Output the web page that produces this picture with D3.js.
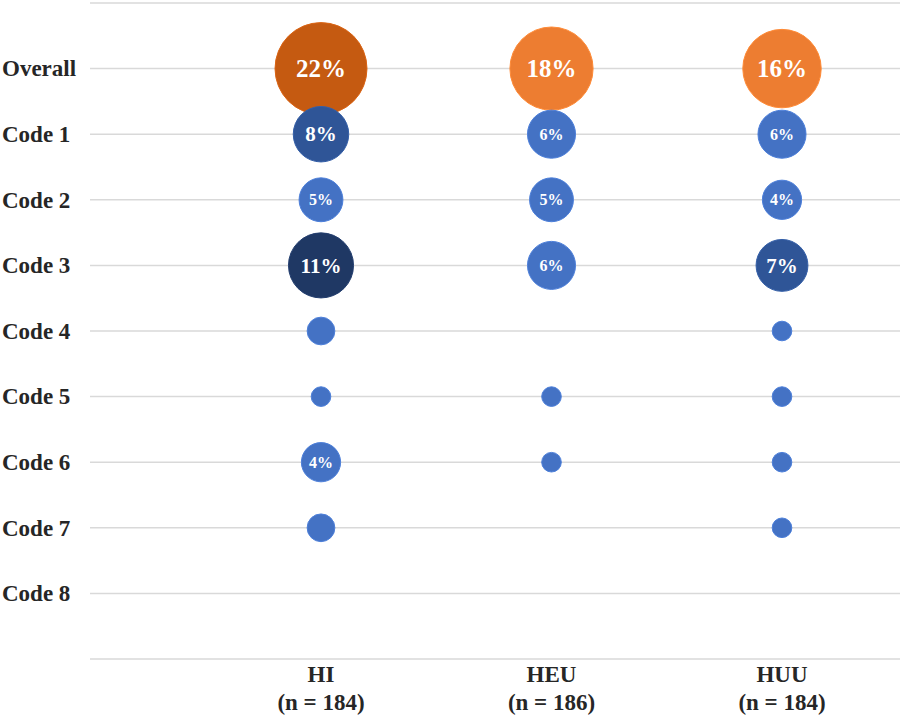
<!DOCTYPE html>
<html>
<head>
<meta charset="utf-8">
<script src="https://cdn.jsdelivr.net/npm/d3@7"></script>
<style>
  body { margin: 0; background: #fff; }
</style>
</head>
<body>
<div id="chart"></div>
<script>
// Categories and values (percent)
const groups = ["HI", "HEU", "HUU"];
const groupN = [184, 186, 184];
const rows = ["Overall", "Code 1", "Code 2", "Code 3", "Code 4", "Code 5", "Code 6", "Code 7", "Code 8"];
const hiValues  = [22, 8, 5, 11, 2, 1, 4, 2, 0];
const heuValues = [18, 6, 5, 6, 0, 1, 1, 0, 0];
const huuValues = [16, 6, 4, 7, 1, 1, 1, 1, 0];

const width = 900, height = 719;
const serif = "'Liberation Serif', 'Times New Roman', Times, serif";

const svg = d3.select("#chart")
  .append("svg")
    .attr("width", width)
    .attr("height", height)
    .attr("font-family", serif)
    .attr("font-weight", "bold");

// rows sit between an empty line at the top and one at the bottom
const yIndex = d3.scaleLinear()
  .domain([-1, rows.length])
  .range([3, 659]);

const x = d3.scalePoint()
  .domain(groups)
  .range([321, 782]);

const r = d3.scaleSqrt()
  .domain([0, 22])
  .range([0, 46]);

const blueColor = d3.scaleThreshold()
  .domain([7, 10])
  .range(["#4472C4", "#2F5597", "#1F3864"]);

const orangeColor = d3.scaleThreshold()
  .domain([20])
  .range(["#ED7D31", "#C55A11"]);

// Grid lines
const gridIdx = d3.range(-1, rows.length + 1);
svg.append("g")
  .selectAll("line")
  .data(gridIdx)
  .enter().append("line")
    .attr("x1", 90)
    .attr("x2", width)
    .attr("y1", d => yIndex(d))
    .attr("y2", d => yIndex(d))
    .attr("stroke", "#d9d9d9")
    .attr("stroke-width", 1.5);

// Row labels
svg.append("g")
  .selectAll("text")
  .data(rows)
  .enter().append("text")
    .attr("x", 2)
    .attr("y", (d, i) => yIndex(i))
    .attr("dy", "0.34em")
    .style("font-size", "23px")
    .attr("fill", "#262626")
    .text(d => d);

// Column labels
const colLabels = svg.append("g")
  .selectAll("g")
  .data(groups)
  .enter().append("g")
    .attr("transform", d => `translate(${x(d)},0)`);
colLabels.append("text")
  .attr("y", 682)
  .attr("text-anchor", "middle")
  .style("font-size", "23px")
  .attr("fill", "#262626")
  .text(d => d);
colLabels.append("text")
  .attr("y", 710)
  .attr("text-anchor", "middle")
  .style("font-size", "23px")
  .attr("fill", "#262626")
  .text((d, i) => `(n = ${groupN[i]})`);

// Bubbles
const series = [hiValues, heuValues, huuValues];
const cells = [];
series.forEach((vals, gi) => {
  vals.forEach((v, ri) => {
    if (v > 0) cells.push({ group: groups[gi], row: ri, value: v });
  });
});

function fillFor(d) {
  return d.row === 0 ? orangeColor(d.value) : blueColor(d.value);
}
function fontFor(d) {
  if (d.row === 0) return 25;
  return d.value >= 7 ? 21 : 16;
}

const bubbles = svg.append("g")
  .selectAll("g")
  .data(cells)
  .enter().append("g")
    .attr("transform", d => `translate(${x(d.group)},${yIndex(d.row)})`);

bubbles.append("circle")
  .attr("r", d => r(d.value))
  .attr("fill", fillFor)
  .attr("stroke", d => d3.color(fillFor(d)).brighter(0.3))
  .attr("stroke-width", 1);

bubbles.filter(d => d.value >= 4)
  .append("text")
    .attr("text-anchor", "middle")
    .attr("dy", "0.34em")
    .attr("fill", "#fff")
    .style("font-size", d => fontFor(d) + "px")
    .text(d => d.value + "%");
</script>
</body>
</html>
